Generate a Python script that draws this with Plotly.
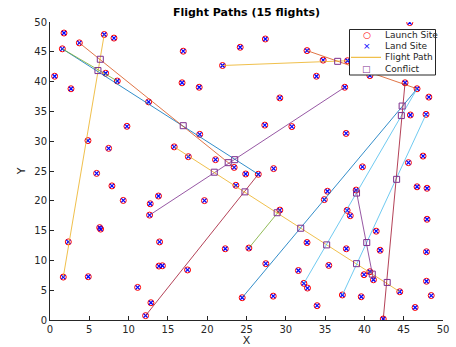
import plotly.graph_objects as go

# ---- data ----
site_x = [1.78, 1.57, 3.73, 6.9, 8.14, 0.59, 2.67, 7.08, 8.56, 12.55, 9.79, 4.83, 7.46,
          16.95, 16.8, 18.98, 21.95, 19.05, 15.8, 17.6, 21.06, 5.93, 7.88, 9.32, 6.32, 6.44,
          2.33, 1.69, 4.87, 11.15, 12.84, 12.16, 13.8, 12.75, 12.67, 13.94, 13.86, 14.3, 17.5,
          19.65, 22.3, 45.77, 24.2, 27.4, 32.7, 34.75, 37.85, 40.7, 33.9, 37.5, 29.24, 45.17,
          46.7, 48.2, 45.85, 47.84, 27.33, 30.77, 37.67, 47.46, 45.6, 39.75, 28.45, 23.43,
          24.9, 26.5, 23.65, 25.3, 29.24, 27.46, 24.45, 28.4, 32.7, 31.6, 32.3, 32.76, 33.98,
          35.3, 34.9, 35.47, 37.8, 38.2, 37.7, 37.2, 38.95, 41.5, 42.0, 39.95, 40.7, 41.15,
          39.6, 42.4, 44.5, 46.45, 48.5, 47.9, 47.9, 47.97, 46.7, 47.97]
site_y = [48.15, 45.5, 46.5, 47.9, 47.3, 40.9, 38.8, 41.4, 40.1, 36.6, 32.5, 30.1, 28.8,
          45.1, 39.8, 39.05, 42.7, 31.15, 29.05, 27.4, 26.9, 24.6, 22.5, 20.06, 15.5, 15.25,
          13.1, 7.2, 7.26, 5.47, 2.9, 0.73, 20.8, 19.5, 17.6, 13.1, 9.05, 9.1, 8.4,
          20.03, 11.95, 49.9, 45.76, 47.15, 45.2, 43.6, 43.5, 41.0, 40.9, 39.05, 37.26, 39.8,
          38.8, 37.4, 34.4, 34.5, 32.7, 32.45, 31.3, 27.5, 26.4, 25.7, 25.4, 25.6,
          24.5, 24.45, 22.6, 12.07, 18.44, 9.45, 3.74, 4.0, 13.0, 8.3, 6.15, 5.36, 2.4,
          21.6, 20.2, 9.16, 18.4, 17.5, 11.95, 4.2, 21.8, 14.9, 11.7, 7.6, 8.1, 6.75,
          3.9, 0.17, 4.74, 2.1, 4.1, 6.5, 11.45, 16.9, 22.35, 22.1]

launch_x = [1.69, 1.57, 1.57, 3.73, 32.7, 21.95, 12.67, 12.16, 15.8, 25.3, 24.45, 32.3, 37.2, 38.95, 42.4]
launch_y = [7.2, 45.5, 45.5, 46.5, 45.2, 42.7, 17.6, 0.73, 29.05, 12.07, 3.74, 6.15, 4.2, 21.8, 0.17]
land_x = [6.9, 26.5, 8.56, 23.43, 46.7, 37.85, 37.5, 26.5, 44.5, 29.24, 46.7, 46.7, 47.84, 41.15, 45.17]
land_y = [47.9, 24.45, 40.1, 25.6, 38.8, 43.5, 39.05, 24.45, 4.74, 18.44, 38.8, 38.8, 34.5, 6.75, 39.8]
flight_colors = ["#EDB120", "#0072BD", "#77AC30", "#D95319", "#D95319", "#EDB120", "#7E2F8E",
                 "#A2142F", "#EDB120", "#77AC30", "#0072BD", "#4DBEEE", "#4DBEEE", "#7E2F8E", "#A2142F"]

conflict_x = [6.4, 6.1, 16.95, 22.67, 23.5, 20.9, 24.8, 36.6, 44.8, 44.7, 28.9, 31.9, 35.2,
              39.0, 40.3, 41.0, 42.9, 44.1, 39.0]
conflict_y = [43.75, 41.85, 32.6, 26.4, 26.9, 24.8, 21.5, 43.4, 35.9, 34.3, 18.0, 15.4, 12.6,
              9.45, 13.0, 7.7, 6.3, 23.6, 21.3]

legend_labels = ["Launch Site", "Land Site", "Flight Path", "Conflict"]

FONT = "DejaVu Sans"
AXC = "#262626"
W, H = 456, 347
ML, MR, MT, MB = 50, 13, 22, 27
PW, PH = W - ML - MR, H - MT - MB

def px(xp):
    return (xp - ML) / PW

def py(yp):
    return (H - MB - yp) / PH

fig = go.Figure()

fig.add_trace(go.Scatter(x=site_x, y=site_y, mode="markers", name="Launch Site",
                         marker=dict(symbol="circle-open", size=6, color="#FF0000",
                                     line=dict(width=1, color="#FF0000"))))
fig.add_trace(go.Scatter(x=site_x, y=site_y, mode="markers", name="Land Site",
                         marker=dict(symbol="x-thin-open", size=4, color="#0000FF",
                                     line=dict(width=1.2, color="#0000FF"))))

for i in range(len(launch_x)):
    fig.add_trace(go.Scatter(x=[launch_x[i], land_x[i]], y=[launch_y[i], land_y[i]],
                             mode="lines", name="Flight Path", opacity=0.8,
                             line=dict(color=flight_colors[i], width=1)))

fig.add_trace(go.Scatter(x=conflict_x, y=conflict_y, mode="markers", name="Conflict",
                         marker=dict(symbol="square-open", size=6, color="#7E2F8E",
                                     line=dict(width=1, color="#7E2F8E"))))

# ---- legend box (MATLAB style) ----
shapes = [dict(type="rect", xref="paper", yref="paper", layer="above",
               x0=px(349.5), x1=px(435.5), y0=py(75), y1=py(29.5),
               fillcolor="white", line=dict(color=AXC, width=1)),
          dict(type="line", xref="paper", yref="paper", layer="above",
               x0=px(351), x1=px(381), y0=py(57.3), y1=py(57.3),
               line=dict(color=flight_colors[0], width=1))]
row_y = [35.3, 45.9, 57.3, 68.7]
annotations = []
for lab, ry in zip(legend_labels, row_y):
    annotations.append(dict(xref="paper", yref="paper", x=px(382.5), y=py(ry),
                            xanchor="left", yanchor="middle", showarrow=False,
                            text=lab, font=dict(family=FONT, size=9, color=AXC)))
sym = [("○", "#FF0000", 9), ("×", "#0000FF", 9), (None, None, None), ("□", "#7E2F8E", 9)]
for (s, c, sz), ry in zip(sym, row_y):
    if s is None:
        continue
    annotations.append(dict(xref="paper", yref="paper", x=px(366.5), y=py(ry),
                            xanchor="center", yanchor="middle", showarrow=False,
                            text=s, font=dict(family=FONT, size=sz, color=c)))

fig.update_layout(
    width=W, height=H,
    margin=dict(l=ML, r=MR, t=MT, b=MB),
    paper_bgcolor="white", plot_bgcolor="white",
    font=dict(family=FONT, size=10, color=AXC),
    title=dict(text="<b>Flight Paths (15 flights)</b>", x=(ML + W - MR) / 2 / W, xanchor="center",
               y=1 - 12 / H, yanchor="middle", font=dict(family=FONT, size=11, color="black")),
    showlegend=False,
    shapes=shapes,
    annotations=annotations,
)
fig.update_xaxes(range=[0, 50], dtick=5, tick0=0, showgrid=False, zeroline=False,
                 showline=True, linecolor=AXC, linewidth=1, ticks="inside", ticklen=4,
                 tickcolor=AXC, mirror=False, tickfont=dict(size=10, color=AXC),
                 automargin=False,
                 title=dict(text="X", standoff=2, font=dict(size=11, color=AXC)))
fig.update_yaxes(range=[0, 50], dtick=5, tick0=0, showgrid=False, zeroline=False,
                 showline=True, linecolor=AXC, linewidth=1, ticks="inside", ticklen=4,
                 tickcolor=AXC, mirror=False, tickfont=dict(size=10, color=AXC),
                 automargin=False,
                 title=dict(text="Y", standoff=6, font=dict(size=11, color=AXC)))

fig.write_html("out.html")
